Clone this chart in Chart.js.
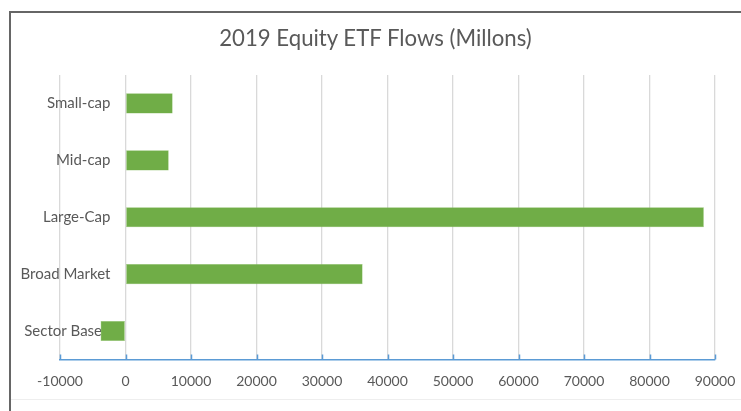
<!DOCTYPE html>
<html>
<head>
<meta charset="utf-8">
<script src="https://cdn.jsdelivr.net/npm/chart.js@4/dist/chart.umd.min.js"></script>
<style>
  html, body { margin: 0; padding: 0; background: #ffffff; }
  #wrap { position: relative; width: 741px; height: 411px; }
  canvas { display: block; }
  #title {
    position: absolute; left: 0; top: 25px; width: 751px;
    text-align: center; font-family: Lato, 'Open Sans', sans-serif;
    font-size: 22.2px; line-height: 26.4px; color: #595959; white-space: nowrap;
  }
</style>
</head>
<body>
<div id="wrap">
  <canvas id="c" width="741" height="411"></canvas>
  <div id="title"></div>
</div>
<script>
const categories = ["Small-cap", "Mid-cap", "Large-Cap", "Broad Market", "Sector Based"];
const flows = [7200, 6600, 88300, 36200, -3800];
const xTickMin = -10000;
const xTickMax = 90000;
const xTickStep = 10000;
const chartTitle = "2019 Equity ETF Flows (Millons)";

document.getElementById("title").textContent = chartTitle;

const textColor = "#595959";
const fontFamily = "Lato, 'Open Sans', sans-serif";

const framePlugin = {
  id: "frame",
  beforeDraw(chart) {
    const ctx = chart.ctx;
    ctx.save();
    ctx.strokeStyle = "#666666";
    ctx.lineWidth = 2;
    ctx.beginPath();
    ctx.moveTo(10, 411);
    ctx.lineTo(10, 12);
    ctx.lineTo(741, 12);
    ctx.stroke();
    ctx.strokeStyle = "#eeeeee";
    ctx.lineWidth = 1;
    ctx.beginPath();
    ctx.moveTo(11, 399.5);
    ctx.lineTo(741, 399.5);
    ctx.stroke();
    ctx.restore();
  }
};

const tickMarkPlugin = {
  id: "upTicks",
  afterDatasetsDraw(chart) {
    const xs = chart.scales.x;
    const ctx = chart.ctx;
    const bottom = chart.chartArea.bottom;
    ctx.save();
    ctx.strokeStyle = "#5B9BD5";
    ctx.lineWidth = 1.5;
    ctx.beginPath();
    xs.ticks.forEach(t => {
      const px = Math.round(xs.getPixelForValue(t.value)) + 0.5;
      ctx.moveTo(px, bottom - 5);
      ctx.lineTo(px, bottom);
    });
    ctx.stroke();
    ctx.restore();
  }
};

new Chart(document.getElementById("c"), {
  type: "bar",
  data: {
    labels: categories,
    datasets: [{
      data: flows,
      backgroundColor: "#70AD47",
      borderColor: "#8cc06a",
      borderWidth: 0.5,
      borderSkipped: false,
      barPercentage: 0.354,
      categoryPercentage: 1.0
    }]
  },
  plugins: [framePlugin, tickMarkPlugin],
  options: {
    indexAxis: "y",
    responsive: false,
    animation: false,
    layout: { padding: { left: 60, right: 26, top: 75, bottom: 7.6 } },
    plugins: {
      legend: { display: false },
      tooltip: { enabled: false },
      title: { display: false }
    },
    scales: {
      x: {
        type: "linear",
        min: xTickMin,
        max: xTickMax,
        afterFit: (scale) => { scale.paddingLeft = 0; scale.paddingRight = 0; },
        ticks: {
          stepSize: xTickStep,
          color: textColor,
          font: { family: fontFamily, size: 14 },
          padding: 13.6,
          maxRotation: 0,
          autoSkip: false,
          callback: (v) => String(v)
        },
        grid: { color: "#d9d9d9", lineWidth: 1.3, drawTicks: false },
        border: { display: true, color: "#5B9BD5", width: 1.5 }
      },
      y: {
        position: { x: -2300 },
        grid: { display: false, drawTicks: false },
        border: { display: false },
        ticks: {
          color: textColor,
          font: { family: fontFamily, size: 15 },
          padding: 0
        }
      }
    }
  }
});
</script>
</body>
</html>
